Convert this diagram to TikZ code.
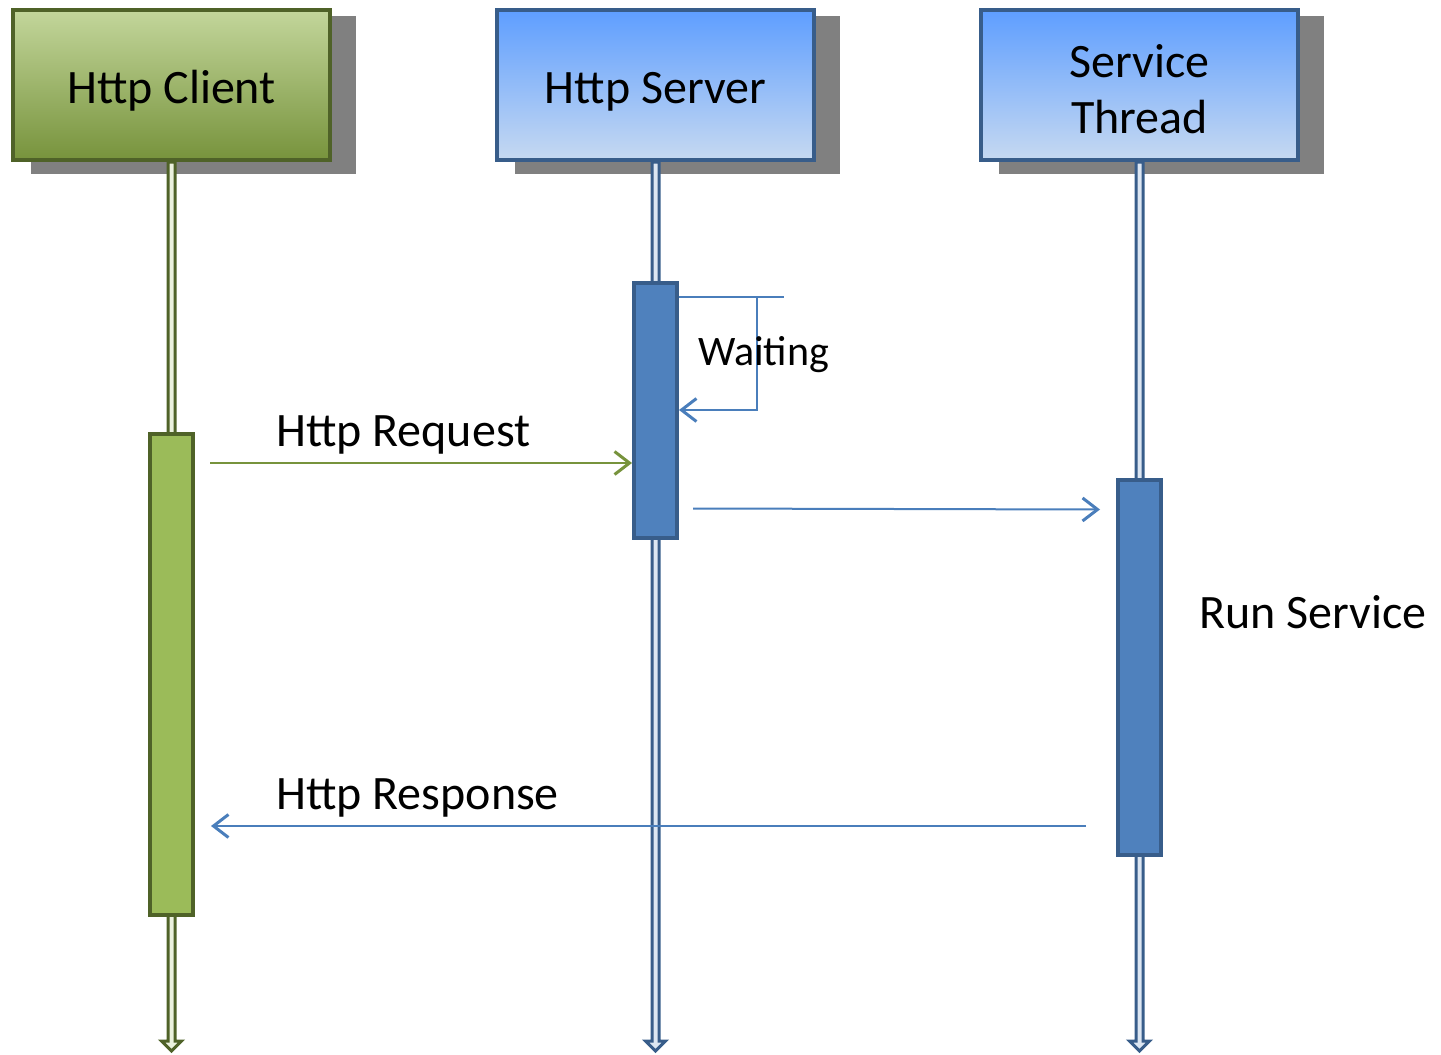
\documentclass[tikz,border=0pt]{standalone}
\usepackage{fontspec}
\setmainfont{Carlito}
\usetikzlibrary{arrows.meta,calc}
\definecolor{gdark}{HTML}{4F6228}
\definecolor{gtop}{HTML}{C3D69B}
\definecolor{gbot}{HTML}{77933C}
\definecolor{gbar}{HTML}{9BBB59}
\definecolor{glight}{HTML}{EBF1DE}
\definecolor{gline}{HTML}{77933C}
\definecolor{bdark}{HTML}{385D8A}
\definecolor{btop}{HTML}{5E9EFF}
\definecolor{bbot}{HTML}{C6D9F1}
\definecolor{bbar}{HTML}{4F81BD}
\definecolor{blight}{HTML}{DCE6F2}
\definecolor{bline}{HTML}{4A7EBB}
\definecolor{shad}{HTML}{808080}
\tikzset{
  hdr/.style={rectangle, line width=4pt, inner sep=0pt, minimum width=317pt, minimum height=150pt,
    font=\fontsize{48}{56}\selectfont},
  onelinehdr/.style={text height=37pt, text depth=0pt},
  ghdr/.style={hdr, draw=gdark, top color=gtop, bottom color=gbot},
  bhdr/.style={hdr, draw=bdark, top color=btop, bottom color=bbot},
  actbar/.style={rectangle, line width=4pt, inner sep=0pt, minimum width=43pt},
  gact/.style={actbar, draw=gdark, fill=gbar},
  bact/.style={actbar, draw=bdark, fill=bbar},
  glife/.style={line width=3pt, draw=gdark, fill=glight, line join=miter},
  blife/.style={line width=3pt, draw=bdark, fill=blight, line join=miter},
  msg/.style={line width=2pt, -{Straight Barb[length=15pt,width=23pt,line width=3pt]}},
  gmsg/.style={msg, draw=gline},
  bmsg/.style={msg, draw=bline},
  lbl/.style={font=\fontsize{48}{56}\selectfont, inner sep=0pt, anchor=base west},
  smalllbl/.style={lbl, font=\fontsize{42}{50}\selectfont},
  shadowbox/.style={fill=shad}
}
\newcommand\lifelinepath[2]{%
  let \p1=(#1.south), \p2=(#2) in
  (\x1-3.5pt,\y1) -- (\x1-3.5pt,\y2+11pt) -- (\x1-10pt,\y2+11pt) -- (\x1,\y2+1pt)
  -- (\x1+10pt,\y2+11pt) -- (\x1+3.5pt,\y2+11pt) -- (\x1+3.5pt,\y1) -- cycle}
\begin{document}
\begin{tikzpicture}[x=1pt,y=-1pt]
\useasboundingbox (0,0) rectangle (1441,1055);
% header nodes (declared first for names, drawn later on top)
\path (171.5,85) node[hdr] (client) {};
\path (655.5,85) node[hdr] (server) {};
\path (1139.5,85) node[hdr] (service) {};
% shadows
\fill[shadowbox] ([xshift=20pt,yshift=-8pt]client.north west) rectangle ([xshift=24pt,yshift=-12pt]client.south east);
\fill[shadowbox] ([xshift=20pt,yshift=-8pt]server.north west) rectangle ([xshift=24pt,yshift=-12pt]server.south east);
\fill[shadowbox] ([xshift=20pt,yshift=-8pt]service.north west) rectangle ([xshift=24pt,yshift=-12pt]service.south east);
% lifeline ends
\coordinate (clientEnd) at (171.5,1052);
\coordinate (serverEnd) at (655.5,1052);
\coordinate (serviceEnd) at (1139.5,1052);
% lifelines
\path[glife] \lifelinepath{client}{clientEnd};
\path[blife] \lifelinepath{server}{serverEnd};
\path[blife] \lifelinepath{service}{serviceEnd};
% headers
\node[ghdr, onelinehdr] at (client) {Http Client};
\node[bhdr, onelinehdr] at (server) {Http Server};
\node[bhdr] at (service) {\raisebox{0pt}[\dimexpr\height+19pt\relax][\depth]{\begin{tabular}{@{}c@{}}Service\\Thread\end{tabular}}};
% activation bars
\node[gact, minimum height=481pt] (clientbar) at (171.5,674.5) {};
\node[bact, minimum height=255pt] (serverbar) at (655.5,410.5) {};
\node[bact, minimum height=375pt] (servicebar) at (1139.5,667.5) {};
% waiting self loop
\coordinate (wA) at (784,297);
\coordinate (wB) at (757,297);
\coordinate (wC) at (757,410);
\draw[line width=2pt, draw=bline] (serverbar.east |- wA) -- (wA);
\draw[bmsg] (wB) -- (wC) -- (serverbar.east |- wC);
\node[smalllbl] (waitlbl) at (698,365) {Waiting};
% request
\coordinate (reqS) at (210,463);
\draw[gmsg] (reqS) -- (serverbar.west |- reqS);
\node[lbl] (reqlbl) at (276,446) {Http Request};
% service call
\coordinate (callS) at (693,508.5);
\coordinate (callT) at (1100,509.5);
\draw[bmsg] (callS) -- (callT);
\node[lbl] (runlbl) at (1199,628) {Run Service};
% response
\coordinate (respS) at (1086,826);
\coordinate (respT) at (211,826);
\draw[bmsg] (respS) -- (respT);
\node[lbl] (resplbl) at (276,809) {Http Response};
\end{tikzpicture}
\end{document}
